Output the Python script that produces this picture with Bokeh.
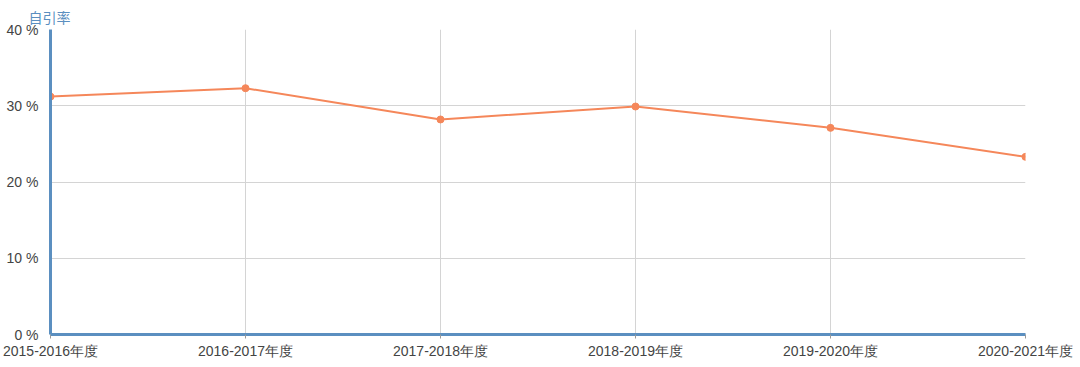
from bokeh.plotting import figure
from bokeh.models import Range1d, FixedTicker, ColumnDataSource, Title
from bokeh.embed import file_html
from bokeh.resources import INLINE

# Self-citation rate per academic year
years = ["2015-2016年度", "2016-2017年度", "2017-2018年度",
         "2018-2019年度", "2019-2020年度", "2020-2021年度"]
rates = [31.2, 32.3, 28.2, 29.9, 27.1, 23.3]
y_ticks = [0, 10, 20, 30, 40]
y_name = "自引率"

idx = list(range(len(years)))
src = ColumnDataSource(data=dict(x=idx, y=rates, year=years))

p = figure(width=1080, height=367, output_backend="svg", toolbar_location=None,
           x_range=Range1d(0, len(years) - 1), y_range=Range1d(0, 40),
           min_border_left=50, min_border_right=55, min_border_top=29,
           min_border_bottom=33, title=None)
p.outline_line_color = None
p.background_fill_color = "white"
p.border_fill_color = "white"

# axis name above the top of the y axis
p.add_layout(Title(text=y_name, align="left", offset=-22,
                   text_font="Noto Sans CJK SC", text_font_size="14px",
                   text_color="#5b8fc0", text_font_style="normal",
                   standoff=5), "above")

p.line("x", "y", source=src, line_color="#f5875a", line_width=2)
p.scatter("x", "y", source=src, size=7, fill_color="#f5875a", line_color="#f5875a")

# x axis
p.xaxis.ticker = FixedTicker(ticks=idx)
p.xaxis.major_label_overrides = {i: s for i, s in enumerate(years)}
p.xaxis.axis_line_color = "#5b8fc0"
p.xaxis.axis_line_width = 3
p.xaxis.major_tick_line_color = "#999999"
p.xaxis.major_tick_out = 4
p.xaxis.major_tick_in = 0
p.xaxis.minor_tick_line_color = None
p.xaxis.major_label_text_font = "Liberation Sans"
p.xaxis.major_label_text_font_size = "14px"
p.xaxis.major_label_text_color = "#444444"
p.xaxis.major_label_standoff = 4

# y axis
p.yaxis.ticker = FixedTicker(ticks=y_ticks)
p.yaxis.major_label_overrides = {v: f"{v} %" for v in y_ticks}
p.yaxis.axis_line_color = "#5b8fc0"
p.yaxis.axis_line_width = 3
p.yaxis.major_tick_line_color = None
p.yaxis.minor_tick_line_color = None
p.yaxis.major_label_text_font = "Liberation Sans"
p.yaxis.major_label_text_font_size = "14px"
p.yaxis.major_label_text_color = "#444444"
p.yaxis.major_label_standoff = 6

p.xgrid.ticker = FixedTicker(ticks=idx)
p.ygrid.ticker = FixedTicker(ticks=y_ticks)
p.grid.grid_line_color = "#d4d4d4"
p.grid.grid_line_width = 1

open("out.html", "w").write(file_html(p, INLINE))
